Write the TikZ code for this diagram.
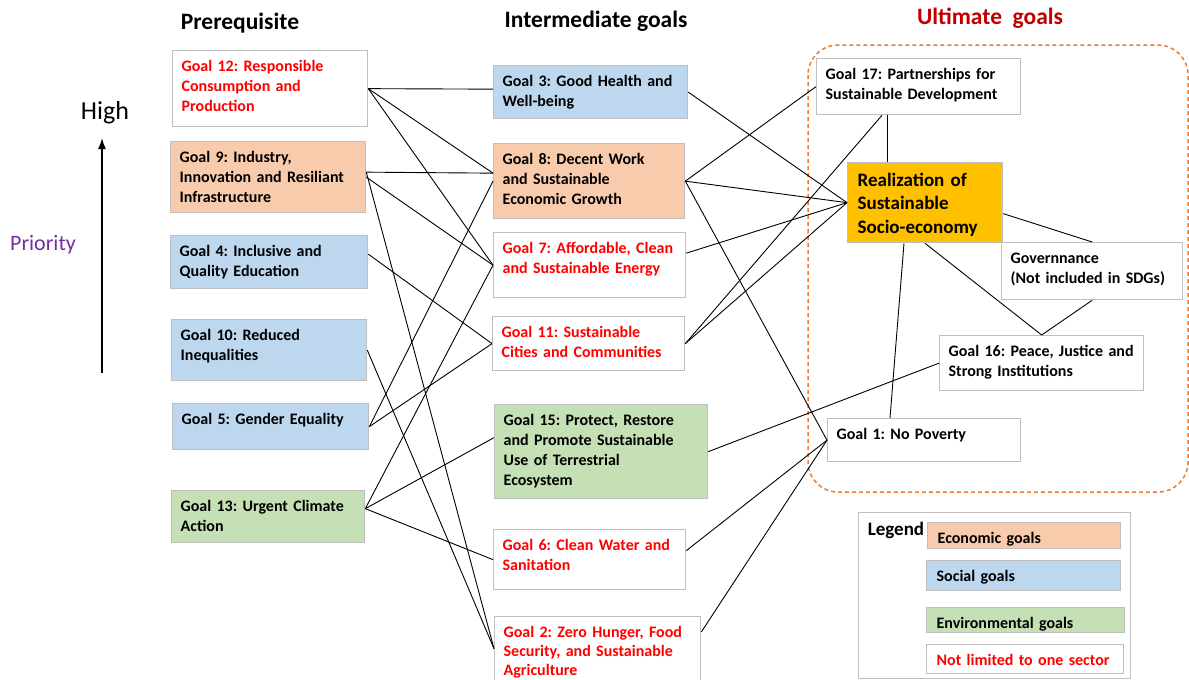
\documentclass[tikz,border=0pt]{standalone}
\usepackage{fontspec}
\setmainfont{Carlito}
\usetikzlibrary{arrows.meta, positioning, calc}
\frenchspacing

\definecolor{econ}{HTML}{F8CBAD}
\definecolor{soc}{HTML}{BDD7EE}
\definecolor{env}{HTML}{C5E0B4}
\definecolor{gold}{HTML}{FFC000}
\definecolor{boxgray}{HTML}{BFBFBF}
\definecolor{dashorange}{HTML}{ED7D31}
\definecolor{darkred}{HTML}{C00000}
\definecolor{purp}{HTML}{7030A0}

\tikzset{
  goal/.style={draw=boxgray, line width=1.3pt, anchor=north west, align=left, inner xsep=9pt, inner ysep=0pt, text height=21pt, font=\fontsize{16}{20}\selectfont\bfseries},
  legitem/.style={goal, inner xsep=10pt, text height=20.5pt},
  link/.style={draw=black, line width=0.9pt},
  heading/.style={font=\fontsize{23.5}{28}\selectfont\bfseries},
}

\begin{document}
\begin{tikzpicture}[x=1pt, y=-1pt]
  \useasboundingbox (0,0) rectangle (1189,680);

  % titles and priority axis
  \node[heading] (pre) at (240,23) {Prerequisite};
  \node[heading] (inter) at (596,21) {Intermediate goals};
  \node[heading, text=darkred] (ult) at (990,18) {Ultimate\ \ goals};
  \node[font=\fontsize{26}{30}\selectfont] (high) at (105,113) {High};
  \node[font=\fontsize{22}{26}\selectfont, text=purp] (prio) at (43,245) {Priority};
  \coordinate (low) at (102,373);
  \coordinate (top) at (102,138);
  \draw[line width=1.5pt, -{Latex[length=11pt,width=8pt]}] (low) -- (top);

  % prerequisite column
  \node[goal, text=red, text width=177pt, text depth=55pt] (g12) at (172,50) {Goal 12: Responsible\\Consumption and\\Production};
  \node[goal, fill=econ, text width=177pt, text depth=50pt] (g9) at (170,141) {Goal 9: Industry,\\Innovation and Resiliant\\Infrastructure};
  \node[goal, fill=soc, text width=179pt, text depth=32pt] (g4) at (170,235) {Goal 4: Inclusive and\\Quality Education};
  \node[goal, fill=soc, text width=177pt, text depth=40pt] (g10) at (171,319) {Goal 10: Reduced\\Inequalities};
  \node[goal, fill=soc, text width=178pt, text depth=25pt] (g5) at (172,403) {Goal 5: Gender Equality};
  \node[goal, fill=env, text width=175pt, text depth=31pt] (g13) at (171,490) {Goal 13: Urgent Climate\\Action};

  % intermediate column
  \node[goal, fill=soc, text width=176pt, text depth=32pt] (g3) at (493,65) {Goal 3: Good Health and\\Well-being};
  \node[goal, fill=econ, text width=173pt, text depth=54pt] (g8) at (493,143) {Goal 8: Decent Work\\and Sustainable\\Economic Growth};
  \node[goal, text=red, text width=174pt, text depth=44pt] (g7) at (493,232) {Goal 7: Affordable, Clean\\and Sustainable Energy};
  \node[goal, text=red, text width=174pt, text depth=33pt] (g11) at (492,316) {Goal 11: Sustainable\\Cities and Communities};
  \node[goal, fill=env, text width=195pt, text depth=73pt] (g15) at (494,404) {Goal 15: Protect, Restore\\and Promote Sustainable\\Use of Terrestrial\\Ecosystem};
  \node[goal, text=red, text width=174pt, text depth=39pt] (g6) at (493,529) {Goal 6: Clean Water and\\Sanitation};
  \node[goal, text=red, text width=188pt, text depth=51pt, font=\fontsize{16}{19}\selectfont\bfseries] (g2) at (494,616) {Goal 2: Zero Hunger, Food\\Security, and Sustainable\\Agriculture};

  % ultimate goals
  \draw[dashorange, line width=1.5pt, dash pattern=on 4pt off 3pt, rounded corners=30pt] (808,45) rectangle (1188,492);
  \node[goal, text width=186pt, text depth=35pt] (g17) at (816,58) {Goal 17: Partnerships for\\Sustainable Development};
  \node[goal, fill=gold, inner xsep=10pt, text width=135pt, text height=23.5pt, text depth=56.5pt, font=\fontsize{19}{23.5}\selectfont\bfseries] (real) at (847,162) {Realization of\\Sustainable\\Socio-economy};
  \node[goal, text width=163pt, text depth=36pt] (gov) at (1001,242) {Governnance\\(Not included in SDGs)};
  \node[goal, text width=186pt, text depth=34pt] (g16) at (939,335) {Goal 16: Peace, Justice and\\Strong Institutions};
  \node[goal, text width=175pt, text depth=22pt] (g1) at (827,418) {Goal 1: No Poverty};

  % legend
  \node[draw=boxgray, line width=1.3pt, anchor=north west, minimum width=272pt, minimum height=166pt, inner sep=0pt] (legend) at (858,512) {};
  \node[font=\fontsize{19}{22}\selectfont\bfseries] (legtitle) at (896,530) {Legend};
  \node[legitem, fill=econ, text width=173pt, text depth=5.5pt] (leco) at (927,522) {Economic goals};
  \node[legitem, fill=soc, text width=174pt, text depth=9.5pt] (lsoc) at (926,560) {Social goals};
  \node[legitem, fill=env, text width=178pt, text depth=4.5pt] (lenv) at (926,607) {Environmental goals};
  \node[legitem, text=red, text width=177pt, text depth=8.5pt] (lnot) at (926,644) {Not limited to one sector};

  % prerequisite -> intermediate
  \draw[link] (g12.east) -- ([yshift=3pt]g3.west);
  \draw[link] (g12.east) -- ([yshift=8pt]g8.west);
  \draw[link] (g12.east) -- (g7.west);
  \draw[link] ([yshift=5pt]g9.east) -- ([yshift=8pt]g8.west);
  \draw[link] (g9.east) -- (g7.west);
  \draw[link] ([yshift=5pt]g9.east) -- ([yshift=4pt]g2.west);
  \draw[link] ([yshift=8pt]g4.east) -- (g11.west);
  \draw[link] (g10.east) -- ([yshift=4pt]g2.west);
  \draw[link] (g5.east) -- (g8.west);
  \draw[link] (g5.east) -- (g11.west);
  \draw[link] ([yshift=8pt]g13.east) -- (g7.west);
  \draw[link] ([yshift=8pt]g13.east) -- ([yshift=14pt]g15.west);
  \draw[link] ([yshift=8pt]g13.east) -- (g6.west);

  % intermediate -> ultimate
  \draw[link] (g3.east) -- (real.west);
  \draw[link] (g8.east) -- (g17.west);
  \draw[link] (g8.east) -- (real.west);
  \draw[link] (g8.east) -- (g1.west);
  \draw[link] ([yshift=12pt]g7.east) -- (real.west);
  \draw[link] (g11.east) -- (real.west);
  \draw[link] (g11.east) -- ([xshift=66pt]g17.south west);
  \draw[link] (g15.east) -- (g16.west);
  \draw[link] ([yshift=9pt]g6.east) -- (g1.west);
  \draw[link] ([yshift=-16pt]g2.north east) -- (g1.west);

  % inside ultimate goals
  \draw[link] ([xshift=71pt]g17.south west) -- ([xshift=40pt]real.north west);
  \draw[link] ([xshift=57pt]real.south west) -- ([xshift=63pt]g1.north west);
  \draw[link] ([xshift=78pt]real.south west) -- (g16.north);
  \draw[link] ([yshift=-11pt]real.east) -- (gov.north);
  \draw[link] (gov.south) -- (g16.north);
\end{tikzpicture}
\end{document}
